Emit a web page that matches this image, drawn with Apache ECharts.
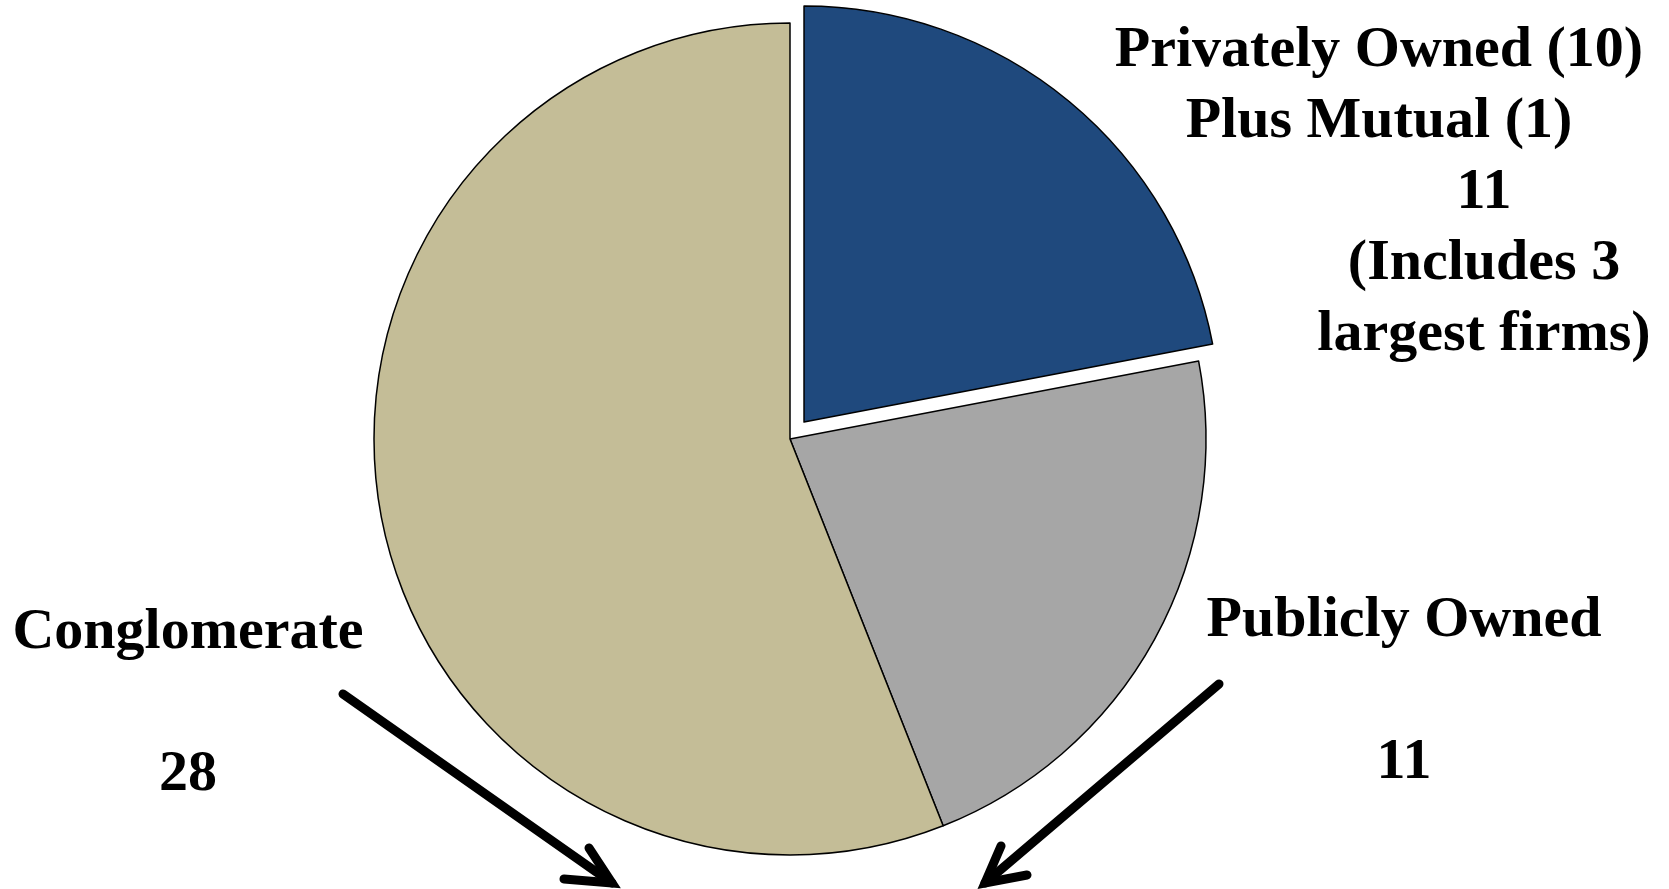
<!DOCTYPE html>
<html>
<head>
<meta charset="utf-8">
<script src="https://cdn.jsdelivr.net/npm/echarts@6/dist/echarts.min.js"></script>
<style>
  html, body { margin: 0; padding: 0; background: #fff; }
  #chart { width: 1669px; height: 889px; }
</style>
</head>
<body>
<div id="chart"></div>
<script>
// slice data
const categories = ['Privately Owned (10)\nPlus Mutual (1)', 'Publicly Owned', 'Conglomerate']
const values = [11, 11, 28]
const notes = ['(Includes 3\nlargest firms)', '', '']
const colors = ['#1f497d', '#a6a6a6', '#c4bd97']

const font = '"Liberation Serif", "Times New Roman", serif'
const lineGap = 71

// where each label block sits: x of name lines, x of value/note lines, y of first line centre, blank rows before value
const labelPos = [
  { nameX: 1379, valX: 1484, y: 51, gap: 0 },
  { nameX: 1404, valX: 1404, y: 621, gap: 1 },
  { nameX: 188, valX: 188, y: 633, gap: 1 },
]

const texts = []
categories.forEach((name, i) => {
  const p = labelPos[i]
  let row = 0
  name.split('\n').forEach(line => {
    texts.push({ x: p.nameX, y: p.y + row * lineGap, text: line })
    row++
  })
  row += p.gap
  texts.push({ x: p.valX, y: p.y + row * lineGap, text: String(values[i]) })
  row++
  if (notes[i]) {
    notes[i].split('\n').forEach(line => {
      texts.push({ x: p.valX, y: p.y + row * lineGap, text: line })
      row++
    })
  }
})

const arrow = (from, tip, armA, armB) => [
  { type: 'polyline', shape: { points: [from, tip] }, style: { stroke: '#000', lineWidth: 9, lineCap: 'round' } },
  { type: 'polyline', shape: { points: [armA, tip, armB] }, style: { stroke: '#000', lineWidth: 9, lineCap: 'round', lineJoin: 'miter', fill: null } },
]

const chart = echarts.init(document.getElementById('chart'))
chart.setOption({
  backgroundColor: '#fff',
  animation: false,
  series: [
    {
      type: 'pie',
      center: [790, 439],
      radius: 416,
      startAngle: 90,
      clockwise: true,
      selectedMode: 'single',
      selectedOffset: 22,
      label: { show: false },
      labelLine: { show: false },
      emphasis: { disabled: true },
      itemStyle: { borderColor: '#000', borderWidth: 1.5 },
      data: categories.map((c, i) => ({
        name: c,
        value: values[i],
        selected: i === 0,
        itemStyle: { color: colors[i] },
      })),
    },
  ],
  graphic: [
    ...texts.map(t => ({
      type: 'text',
      x: t.x,
      y: t.y,
      style: {
        text: t.text,
        font: 'bold 58px ' + font,
        fill: '#000',
        align: 'center',
        verticalAlign: 'middle',
      },
    })),
    ...arrow([343, 694], [612, 883], [589, 848], [564, 879]),
    ...arrow([1219, 684], [985, 883], [1001, 846], [1027, 875]),
  ],
})
</script>
</body>
</html>
